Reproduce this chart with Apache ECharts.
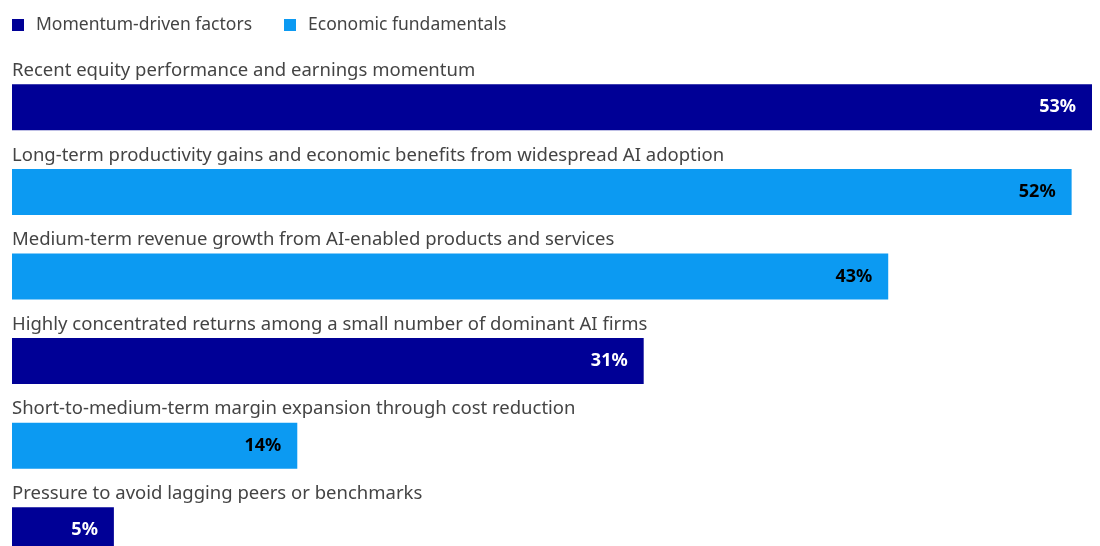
<!DOCTYPE html>
<html>
<head>
<meta charset="utf-8">
<script src="https://cdn.jsdelivr.net/npm/echarts@6/dist/echarts.min.js"></script>
<style>
  html, body { margin: 0; padding: 0; background: #ffffff; }
  #chart { width: 1100px; height: 546px; }
</style>
</head>
<body>
<div id="chart"></div>
<script>
// Survey drivers, top to bottom
const categories = [
  'Recent equity performance and earnings momentum',
  'Long-term productivity gains and economic benefits from widespread AI adoption',
  'Medium-term revenue growth from AI-enabled products and services',
  'Highly concentrated returns among a small number of dominant AI firms',
  'Short-to-medium-term margin expansion through cost reduction',
  'Pressure to avoid lagging peers or benchmarks'
];
// Share of respondents (%), split by driver type (null = other group)
const momentumValues = [53, null, null, 31, null, 5];
const fundamentalsValues = [null, 52, 43, null, 14, null];

const NAVY = '#000096';
const BLUE = '#0c9af2';
const FONT = '"Noto Sans", "Open Sans", sans-serif';

const chart = echarts.init(document.getElementById('chart'), null, { renderer: 'canvas' });

function valueLabel(color) {
  return {
    show: true,
    position: 'insideRight',
    distance: 16,
    color: color,
    fontFamily: FONT,
    fontWeight: 'bold',
    fontSize: 18,
    formatter: p => p.value + '%'
  };
}

chart.setOption({
  animation: false,
  backgroundColor: '#ffffff',
  legend: {
    left: 7,
    top: 11,
    padding: 5,
    itemWidth: 12,
    itemHeight: 12,
    itemGap: 32,
    icon: 'rect',
    textStyle: {
      color: '#444444',
      fontFamily: FONT,
      fontSize: 17.5,
      padding: [0, 0, 0, 7]
    },
    data: ['Momentum-driven factors', 'Economic fundamentals']
  },
  // the last row runs past the bottom edge of the canvas
  grid: {
    left: 12, right: 8, top: 65, height: 507.6,
    containLabel: false,
    outerBoundsMode: 'none'
  },
  xAxis: {
    type: 'value',
    min: 0,
    max: 53,
    show: false
  },
  yAxis: {
    type: 'category',
    data: categories,
    inverse: true,
    axisLine: { show: false },
    axisTick: { show: false },
    splitLine: { show: false },
    axisLabel: {
      inside: true,
      interval: 0,
      margin: 0,
      align: 'left',
      verticalAlign: 'bottom',
      padding: [0, 0, 27, 0],
      color: '#444444',
      fontFamily: FONT,
      fontSize: 18.5
    },
    z: 5
  },
  series: [
    {
      name: 'Momentum-driven factors',
      type: 'bar',
      data: momentumValues,
      barWidth: 46,
      barGap: '-100%',
      itemStyle: { color: NAVY },
      label: valueLabel('#ffffff')
    },
    {
      name: 'Economic fundamentals',
      type: 'bar',
      data: fundamentalsValues,
      barWidth: 46,
      itemStyle: { color: BLUE },
      label: valueLabel('#000000')
    }
  ]
});
</script>
</body>
</html>
